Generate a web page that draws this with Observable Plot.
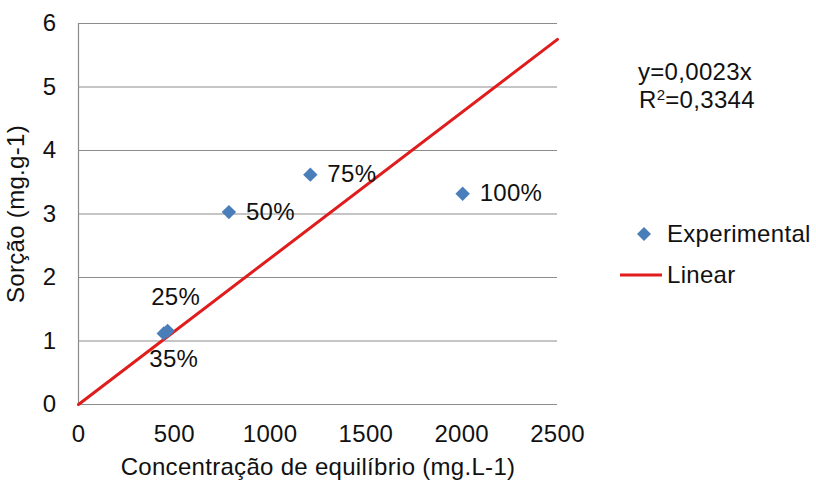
<!DOCTYPE html>
<html>
<head>
<meta charset="utf-8">
<script src="https://cdn.jsdelivr.net/npm/d3@7"></script>
<script src="https://cdn.jsdelivr.net/npm/@observablehq/plot@0.6"></script>
<style>
  body { margin: 0; background: #fff; }
  #wrap { position: relative; width: 816px; height: 483px; font-family: "Liberation Sans", Arial, sans-serif; }
  #wrap > svg { position: absolute; left: 0; top: 0; }
  #wrap text { letter-spacing: 0.3px; }
  .ov { position: absolute; font-size: 24px; color: #111; line-height: 1; white-space: nowrap; letter-spacing: 0.3px; }
</style>
</head>
<body>
<div id="wrap"></div>
<script>
// ---- data ----
const labels = ["25%", "35%", "50%", "75%", "100%"];
const concentration = [465, 445, 785, 1210, 2005];
const sorption = [1.16, 1.12, 3.03, 3.62, 3.32];
const slope = 0.0023;
const slopeText = "0,0023";
const rSquared = "0,3344";
const xTicks = [0, 500, 1000, 1500, 2000, 2500];
const yTicks = [0, 1, 2, 3, 4, 5, 6];
const xDomain = [0, 2500];
const yDomain = [0, 6];
const xTitle = "Concentração de equilíbrio (mg.L-1)";
const yTitle = "Sorção (mg.g-1)";

const points = labels.map((l, i) => ({label: l, x: concentration[i], y: sorption[i]}));
const fit = xDomain.map(x => ({x, y: slope * x}));

const blue = "#4a7ebb";
const red = "#e01c1c";
const font = "Liberation Sans, Arial, sans-serif";
const fs = 24;

const chart = Plot.plot({
  width: 816,
  height: 483,
  marginLeft: 78,
  marginRight: 259,
  marginTop: 23,
  marginBottom: 79,
  style: {fontFamily: font, background: "transparent", color: "#111"},
  x: {domain: xDomain},
  y: {domain: yDomain},
  marks: [
    Plot.gridY(yTicks, {stroke: "#8c8c8c", strokeOpacity: 1, strokeWidth: 1.2}),
    Plot.ruleX([0], {stroke: "#8c8c8c", strokeWidth: 1.2}),
    Plot.axisX(xTicks, {tickSize: 0, tickPadding: 20, fontSize: fs, tickFormat: d => String(d), label: xTitle, labelAnchor: "center", labelArrow: "none", labelOffset: 70}),
    Plot.axisY(yTicks, {tickSize: 0, tickPadding: 22, fontSize: fs, tickFormat: d => String(d), label: yTitle, labelAnchor: "center", labelArrow: "none", labelOffset: 72}),
    Plot.line(fit, {x: "x", y: "y", stroke: red, strokeWidth: 3}),
    Plot.dot(points, {x: "x", y: "y", symbol: "diamond2", r: 6.5, fill: blue, stroke: null}),
    Plot.text(points.filter(d => ["50%", "75%", "100%"].includes(d.label)), {x: "x", y: "y", text: "label", textAnchor: "start", dx: 17, fontSize: fs, fill: "#111"}),
    Plot.text(points.filter(d => d.label === "25%"), {x: "x", y: "y", text: "label", dx: 8, dy: -34, fontSize: fs, fill: "#111"}),
    Plot.text(points.filter(d => d.label === "35%"), {x: "x", y: "y", text: "label", dx: 10, dy: 26, fontSize: fs, fill: "#111"})
  ]
});

const wrap = document.getElementById("wrap");
wrap.appendChild(chart);

function add(html, css) {
  const d = document.createElement("div");
  d.className = "ov";
  d.innerHTML = html;
  Object.assign(d.style, css);
  wrap.appendChild(d);
  return d;
}
add("y=" + slopeText + "x", {left: "638px", top: "60px"});
add('R<sup style="font-size:15px;vertical-align:8px;line-height:0">2</sup>=' + rSquared, {left: "639px", top: "88px"});

// legend
const leg = document.createElement("div");
leg.className = "ov";
Object.assign(leg.style, {left: "618px", top: "220px"});
leg.innerHTML =
  '<div style="display:flex;align-items:center;height:27px"><svg width="46" height="20"><path d="M26,3 L33,10 L26,17 L19,10 Z" fill="' + blue + '"/></svg><span style="margin-left:3px">Experimental</span></div>' +
  '<div style="display:flex;align-items:center;height:27px;margin-top:14px"><svg width="46" height="20"><line x1="2" y1="10" x2="44" y2="10" stroke="' + red + '" stroke-width="3"/></svg><span style="margin-left:3px">Linear</span></div>';
wrap.appendChild(leg);
</script>
</body>
</html>
